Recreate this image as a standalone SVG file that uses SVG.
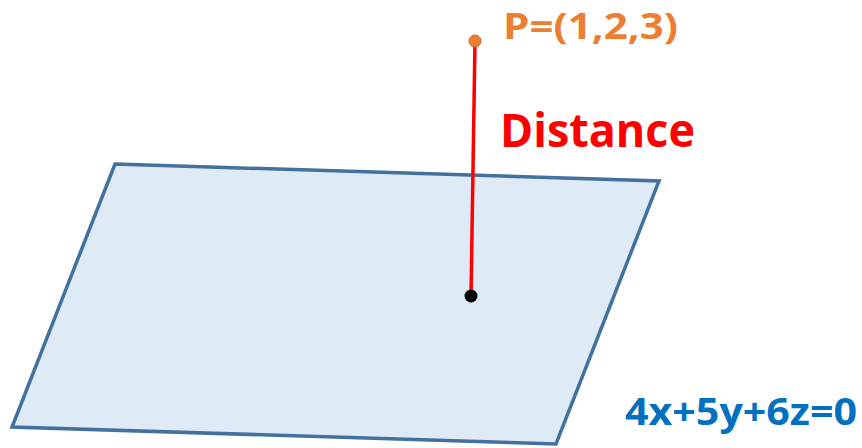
<svg xmlns="http://www.w3.org/2000/svg" width="862" height="448" viewBox="0 0 862 448">
  <style>
    .lbl { font-family: "Open Sans", "Liberation Sans", sans-serif; font-weight: bold; }
  </style>
  <rect width="862" height="448" fill="#ffffff"/>
  <g id="plane">
    <polygon points="115,164 659,181 556,444 12,427" fill="#DEEBF7" stroke="#41719C" stroke-width="3.5" stroke-linejoin="miter"/>
  </g>
  <g id="connectors">
    <line x1="475" y1="41" x2="471" y2="296" stroke="#FF0000" stroke-width="3.5"/>
  </g>
  <g id="point-P">
    <circle cx="475" cy="41" r="6" fill="#ED7D31" stroke="#C9651F" stroke-width="1"/>
    <text class="lbl" x="503" y="39" font-size="36" fill="#ED7D31" textLength="175" lengthAdjust="spacingAndGlyphs">P=(1,2,3)</text>
  </g>
  <g id="foot">
    <circle cx="471" cy="296" r="6.5" fill="#000000"/>
  </g>
  <g id="distance-label">
    <text class="lbl" x="500" y="147" font-size="47" fill="#FF0000" textLength="195" lengthAdjust="spacingAndGlyphs">Distance</text>
  </g>
  <g id="equation">
    <text class="lbl" x="625" y="425" font-size="38" fill="#0070C0" textLength="232" lengthAdjust="spacingAndGlyphs">4x+5y+6z=0</text>
  </g>
</svg>
